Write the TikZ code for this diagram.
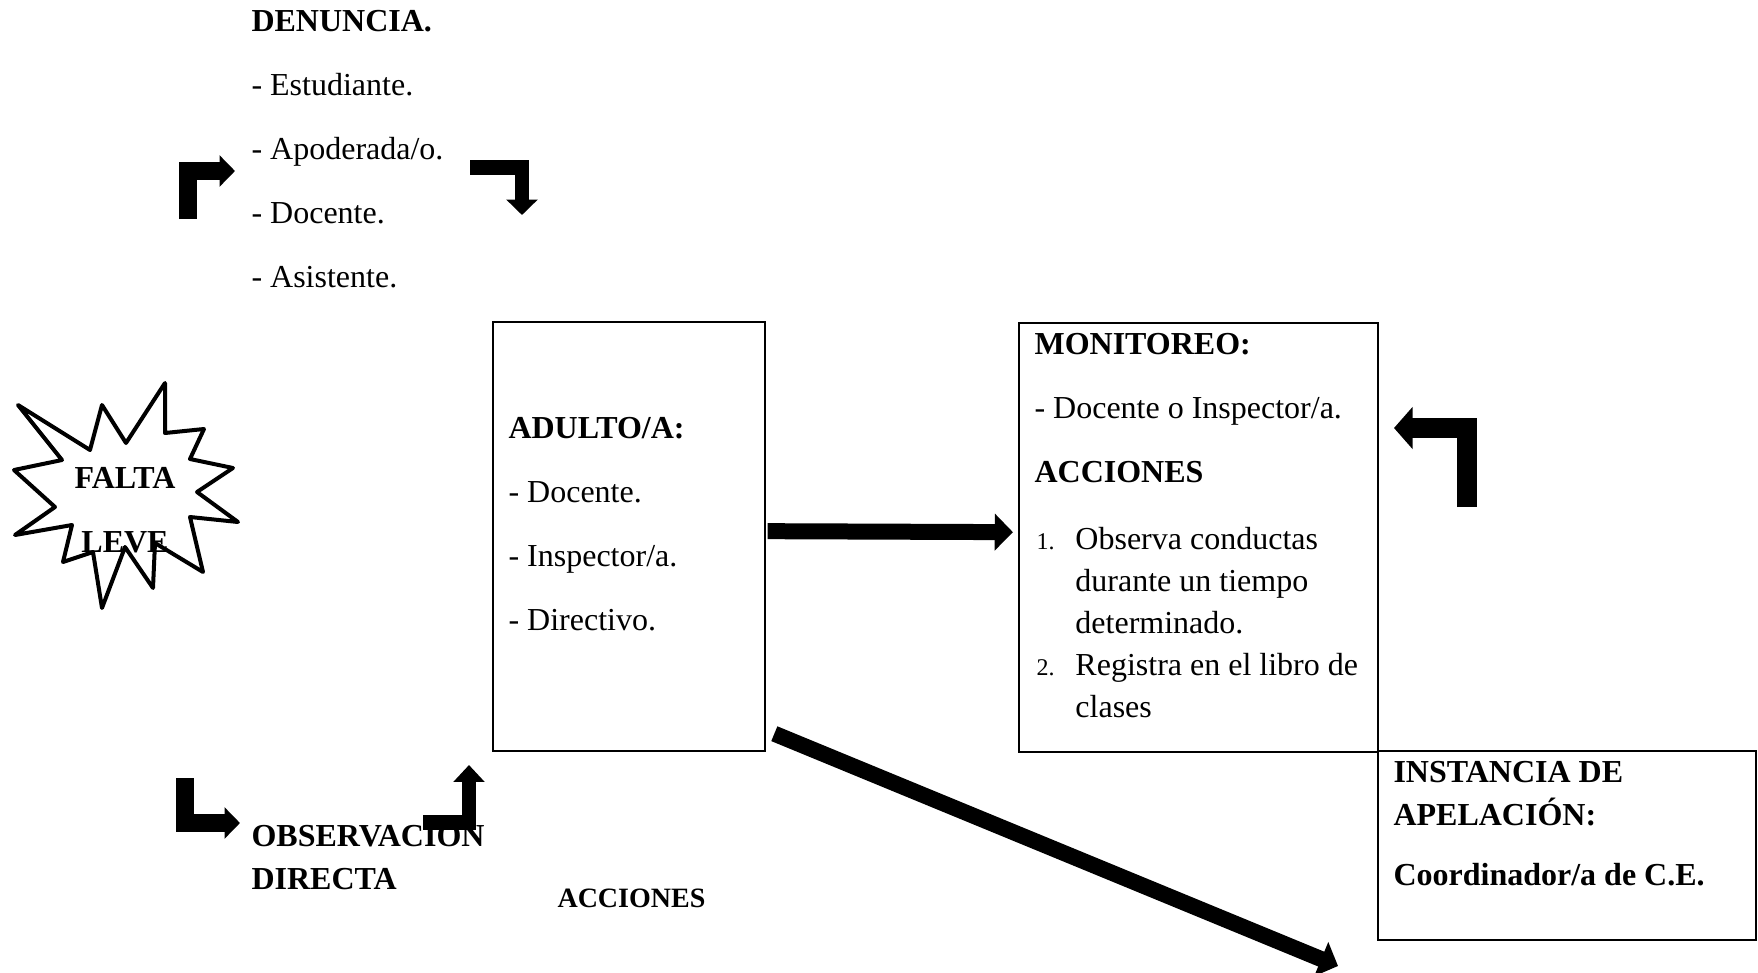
\documentclass[tikz,border=0pt]{standalone}
\usepackage{fontspec}
\setmainfont{Liberation Serif}
\usepackage{tikz}
\usetikzlibrary{positioning,arrows.meta,calc}

\begin{document}
\begin{tikzpicture}[
  x=0.375pt, y=-0.375pt,
  txt/.style={anchor=base west, align=left, inner sep=0pt,
    font=\fontsize{12}{24}\selectfont},
  box/.style={draw, line width=1pt, inner sep=0pt},
  bigarrow/.style={line width=6pt, line join=miter,
    -{Triangle[length=6.8pt, width=13.5pt]}},
  bent/.style={bigarrow, -{Triangle[length=5.8pt, width=11.5pt]}}
]
\useasboundingbox (0,0) rectangle (1758,972);

% Denuncia list (placed by its last baseline)
\node[txt] (denuncia) at (251,287) {\textbf{DENUNCIA.}\\- Estudiante.\\- Apoderada/o.\\- Docente.\\- Asistente.};

% Falta leve burst
\draw[line width=1.5pt, line join=round] (18,405) -- (90,450) -- (102,405) -- (126,443) -- (165,383) -- (165,433) -- (204,429) -- (190,459) -- (233,468) -- (197,492) -- (238,522) -- (190,517) -- (203,572) -- (155,543) -- (153,588) -- (125,547) -- (102,608) -- (93,552) -- (63,562) -- (72,525) -- (15,535) -- (55,507) -- (14,470) -- (62,460) -- cycle;
\node[txt, anchor=base, align=center, font=\bfseries\fontsize{12}{24}\selectfont] (falta) at (125,552) {FALTA\\LEVE};

% Adult box
\node[box, minimum width=102pt, minimum height=160.9pt] (adulto) at (629,536.5) {};
\node[txt] (adultotxt) at (508,630) {\textbf{ADULTO/A:}\\- Docente.\\- Inspector/a.\\- Directivo.};

% Monitoring box
\node[box, minimum width=134.6pt, minimum height=160.9pt] (monitoreo) at (1198.5,537.5) {};
\node[txt] (montxt) at (1034,482) {\textbf{MONITOREO:}\\- Docente o Inspector/a.\\\textbf{ACCIONES}};
\node[txt, font=\fontsize{12}{15.75}\selectfont] (monlist) at (1036,717)
  {\makebox[14.6pt][l]{\small 1.}Observa conductas\\\hspace*{14.6pt}durante un tiempo\\\hspace*{14.6pt}determinado.\\\makebox[14.6pt][l]{\small 2.}Registra en el libro de\\\hspace*{14.6pt}clases};

% Appeal box
\node[box, minimum width=141.75pt, minimum height=70.9pt] (instancia) at (1567,845.5) {};
\node[txt, font=\bfseries\fontsize{12}{16}\selectfont] (instxt) at (1393,885) {INSTANCIA DE\\APELACIÓN:\\[6.5pt]Coordinador/a de C.E.};

% Bottom texts
\node[txt, font=\bfseries\fontsize{12}{16}\selectfont] (obs) at (251,889) {OBSERVACION\\DIRECTA};
\node[txt, font=\bfseries\fontsize{10.5}{13}\selectfont] (acciones) at (557,907) {ACCIONES};

% Bent arrows
\coordinate (tlA) at (188,219); \coordinate (tlB) at (235,171);
\coordinate (trA) at (470,167.5); \coordinate (trB) at (522,215);
\coordinate (rtA) at (1467,507); \coordinate (rtB) at (1394,428);
\coordinate (blA) at (185,778); \coordinate (blB) at (240,823);
\coordinate (bmA) at (423,822.5); \coordinate (bmB) at (469,765);
\draw[bent, line width=6.4pt] (tlA) |- (tlB);
\draw[bent, line width=5.6pt] (trA) -| (trB);
\draw[bent, line width=7.5pt, -{Triangle[length=7pt, width=15.5pt]}] (rtA) |- (rtB);
\draw[bent, line width=6.5pt] (blA) |- (blB);
\draw[bent, line width=5.4pt, -{Triangle[length=6.3pt, width=11.3pt]}] (bmA) -| (bmB);

% Main arrows
\coordinate (diagend) at (1338,966);
\draw[bigarrow, shorten <=0.5pt, shorten >=1.8pt] ([yshift=2pt]adulto.east) -- ([yshift=2pt]monitoreo.west);
\draw[bigarrow] ([xshift=3pt,yshift=7pt]adulto.south east) -- (diagend);

\end{tikzpicture}
\end{document}
